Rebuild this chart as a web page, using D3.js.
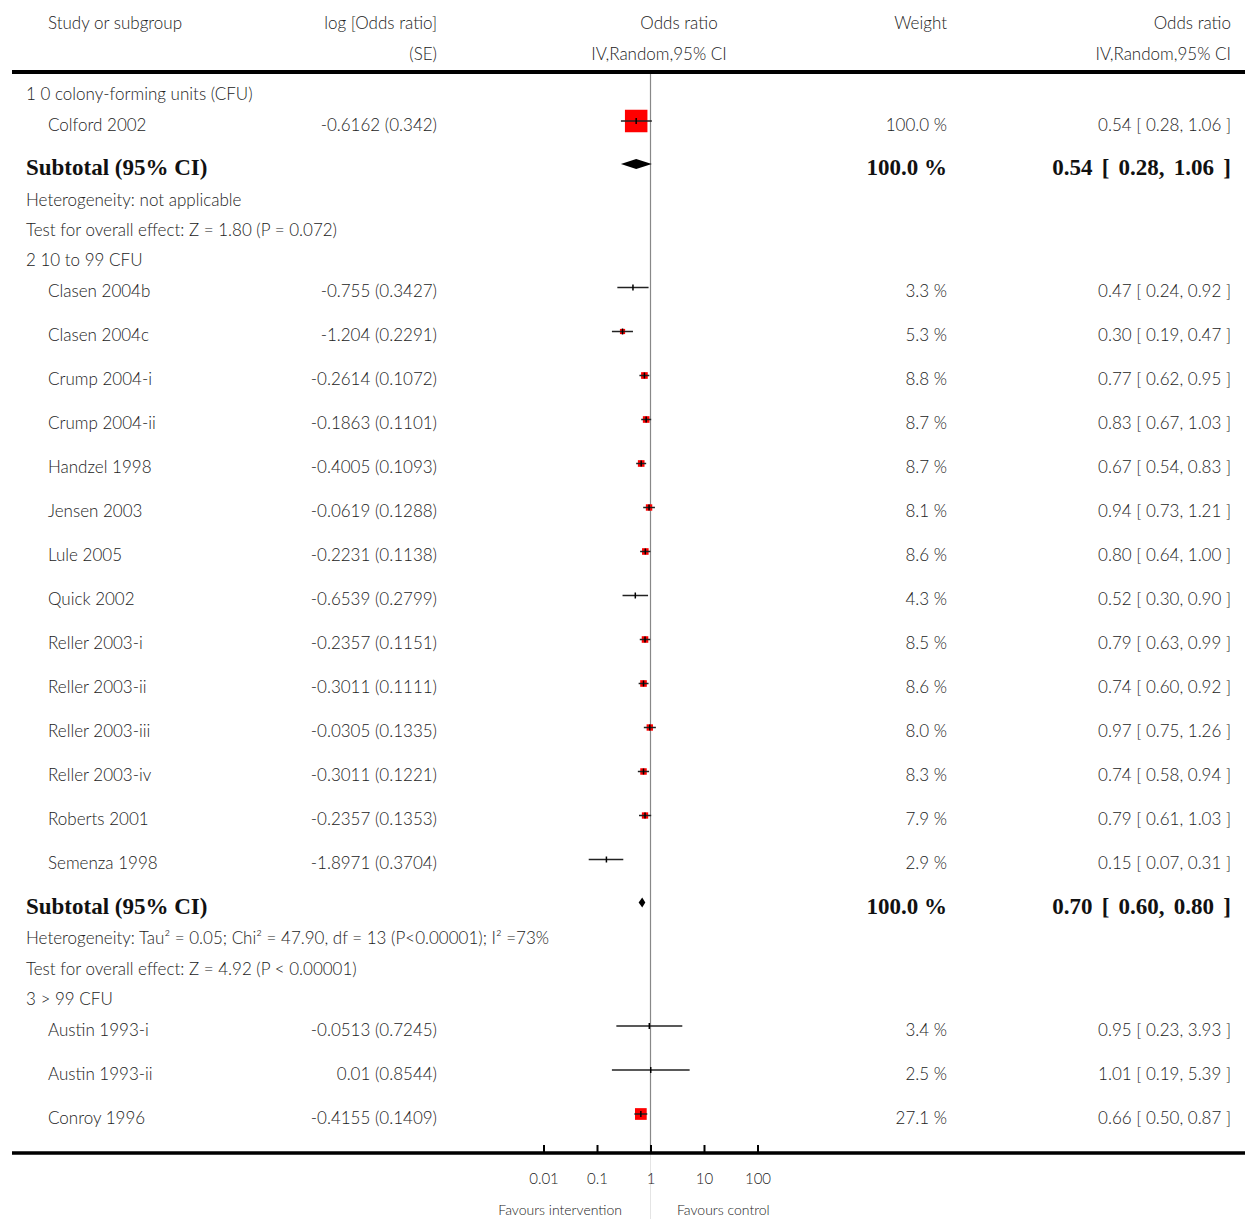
<!DOCTYPE html>
<html><head><meta charset="utf-8">
<script src="https://cdn.jsdelivr.net/npm/d3@7"></script>
<style>
body{margin:0;background:#fff}
svg text{font-family:Lato,"Open Sans",sans-serif;font-weight:300;fill:#222}
.bold{font-family:"Liberation Serif","Times New Roman",serif !important;font-weight:bold !important;fill:#111 !important}
</style></head><body>
<script>
// ---- data ----
const groupLabels = ["1 0 colony-forming units (CFU)", "2 10 to 99 CFU", "3 > 99 CFU"];
const studyNames = [
 ["Colford 2002"],
 ["Clasen 2004b","Clasen 2004c","Crump 2004-i","Crump 2004-ii","Handzel 1998","Jensen 2003","Lule 2005","Quick 2002","Reller 2003-i","Reller 2003-ii","Reller 2003-iii","Reller 2003-iv","Roberts 2001","Semenza 1998"],
 ["Austin 1993-i","Austin 1993-ii","Conroy 1996"]
];
const logOR = [
 ["-0.6162"],
 ["-0.755","-1.204","-0.2614","-0.1863","-0.4005","-0.0619","-0.2231","-0.6539","-0.2357","-0.3011","-0.0305","-0.3011","-0.2357","-1.8971"],
 ["-0.0513","0.01","-0.4155"]
];
const seVals = [
 ["0.342"],
 ["0.3427","0.2291","0.1072","0.1101","0.1093","0.1288","0.1138","0.2799","0.1151","0.1111","0.1335","0.1221","0.1353","0.3704"],
 ["0.7245","0.8544","0.1409"]
];
const weights = [
 [100.0],
 [3.3,5.3,8.8,8.7,8.7,8.1,8.6,4.3,8.5,8.6,8.0,8.3,7.9,2.9],
 [3.4,2.5,27.1]
];
const orVals = [
 [0.54],
 [0.47,0.30,0.77,0.83,0.67,0.94,0.80,0.52,0.79,0.74,0.97,0.74,0.79,0.15],
 [0.95,1.01,0.66]
];
const ciLow = [
 [0.28],
 [0.24,0.19,0.62,0.67,0.54,0.73,0.64,0.30,0.63,0.60,0.75,0.58,0.61,0.07],
 [0.23,0.19,0.50]
];
const ciHigh = [
 [1.06],
 [0.92,0.47,0.95,1.03,0.83,1.21,1.00,0.90,0.99,0.92,1.26,0.94,1.03,0.31],
 [3.93,5.39,0.87]
];
const subtotals = [
 {or:0.54, lo:0.28, hi:1.06, w:"100.0 %", het:"Heterogeneity: not applicable", test:"Test for overall effect: Z = 1.80 (P = 0.072)"},
 {or:0.70, lo:0.60, hi:0.80, w:"100.0 %", het:"Heterogeneity: Tau² = 0.05; Chi² = 47.90, df = 13 (P<0.00001); I² =73%", test:"Test for overall effect: Z = 4.92 (P < 0.00001)"},
 null
];
const tickValues = [0.01, 0.1, 1, 10, 100];
const tickLabels = ["0.01","0.1","1","10","100"];

// ---- layout ----
const W = 1245, H = 1219;
const svg = d3.select("body").append("svg").attr("width", W).attr("height", H);
const x = d3.scaleLog().domain([0.01, 100]).range([543.5, 757.5]);
const f2 = d3.format(".2f");
const xStudy = 48, xGroup = 26, xLog = 437, xW = 947, xCI = 1231;

const hdr = svg.append("g").attr("font-size", 17);
function t(g, xx, yy, s, anchor, cls, size){
  const e = g.append("text").attr("x", xx).attr("y", yy).attr("dy","0.35em").attr("text-anchor", anchor||"start").text(s);
  if (cls) e.attr("class", cls);
  if (size) e.attr("font-size", size);
  return e;
}
t(hdr, 48, 23, "Study or subgroup");
t(hdr, 437, 23, "log [Odds ratio]", "end");
t(hdr, 437, 54, "(SE)", "end");
t(hdr, 679, 23, "Odds ratio", "middle");
t(hdr, 659, 54, "IV,Random,95% CI", "middle");
t(hdr, 947, 23, "Weight", "end");
t(hdr, 1231, 23, "Odds ratio", "end");
t(hdr, 1231, 54, "IV,Random,95% CI", "end");

const rows = [];
let y = 94;
groupLabels.forEach((gl, gi) => {
  if (gi > 0) y += 30;
  rows.push({type:"group", y, label: gl});
  studyNames[gi].forEach((nm, i) => {
    y += (i === 0) ? 31 : 44;
    rows.push({type:"study", y, name:nm, lg:logOR[gi][i], se:seVals[gi][i], w:weights[gi][i], or:orVals[gi][i], lo:ciLow[gi][i], hi:ciHigh[gi][i]});
  });
  const st = subtotals[gi];
  if (st) {
    y += 42; rows.push({type:"subtotal", y, st});
    y += 33; rows.push({type:"het", y, label: st.het});
    y += 30.5; rows.push({type:"het", y, label: st.test});
  }
});

const axisY = 1153;
const x1 = x(1);
svg.append("line").attr("x1", x1).attr("x2", x1).attr("y1", 74).attr("y2", axisY).attr("stroke", "#888").attr("stroke-width", 1.2);
svg.append("line").attr("x1", x1).attr("x2", x1).attr("y1", axisY).attr("y2", H).attr("stroke", "#e4e4e4").attr("stroke-width", 1);

svg.append("rect").attr("x", 12).attr("y", 70).attr("width", W - 12).attr("height", 4).attr("fill", "#000");

const body = svg.append("g").attr("font-size", 17);
rows.forEach(r => {
  if (r.type === "group") t(body, xGroup, r.y, r.label);
  else if (r.type === "het") t(body, xGroup, r.y, r.label);
  else if (r.type === "study") {
    t(body, xStudy, r.y, r.name);
    t(body, xLog, r.y, `${r.lg} (${r.se})`, "end");
    t(body, xW, r.y, `${r.w.toFixed(1)} %`, "end");
    t(body, xCI, r.y, `${f2(r.or)} [ ${f2(r.lo)}, ${f2(r.hi)} ]`, "end");
    const my = r.y - 4;
    if (r.w >= 5) {
      const s = 2.25 * Math.sqrt(r.w);
      body.append("rect").attr("x", x(r.or) - s/2).attr("y", my - s/2).attr("width", s).attr("height", s).attr("fill", "#ff0000");
    }
    body.append("line").attr("x1", x(r.lo)).attr("x2", x(r.hi)).attr("y1", my).attr("y2", my).attr("stroke", "#222").attr("stroke-width", 1.5);
    body.append("line").attr("x1", x(r.or)).attr("x2", x(r.or)).attr("y1", my - 3).attr("y2", my + 3).attr("stroke", "#000").attr("stroke-width", 1.5);
  } else if (r.type === "subtotal") {
    const st = r.st;
    t(body, xGroup, r.y, "Subtotal (95% CI)", "start", "bold", 23);
    t(body, xW, r.y, st.w, "end", "bold", 23);
    t(body, xCI, r.y, `${f2(st.or)} [ ${f2(st.lo)}, ${f2(st.hi)} ]`, "end", "bold", 23).attr("word-spacing", 3.5);
    const my = r.y - 3, hh = 5;
    const pts = [[x(st.lo), my], [x(st.or), my - hh], [x(st.hi), my], [x(st.or), my + hh]];
    body.append("path").attr("d", d3.line()(pts) + "Z").attr("fill", "#000");
  }
});

svg.append("rect").attr("x", 12).attr("y", axisY - 1.75).attr("width", W - 12).attr("height", 3.5).attr("fill", "#000");
const ax = svg.append("g").attr("transform", `translate(0,${axisY})`)
  .call(d3.axisBottom(x).tickValues(tickValues).tickSize(-8).tickPadding(20).tickFormat((d, i) => tickLabels[i]));
ax.select(".domain").remove();
ax.selectAll(".tick line").attr("stroke", "#000").attr("stroke-width", 2);
ax.selectAll(".tick text").attr("font-size", 15).attr("font-family", "Lato,sans-serif").attr("fill", "#222");
t(svg, 622, 1210, "Favours intervention", "end", null, 14);
t(svg, 677, 1210, "Favours control", "start", null, 14);
</script>
</body></html>
